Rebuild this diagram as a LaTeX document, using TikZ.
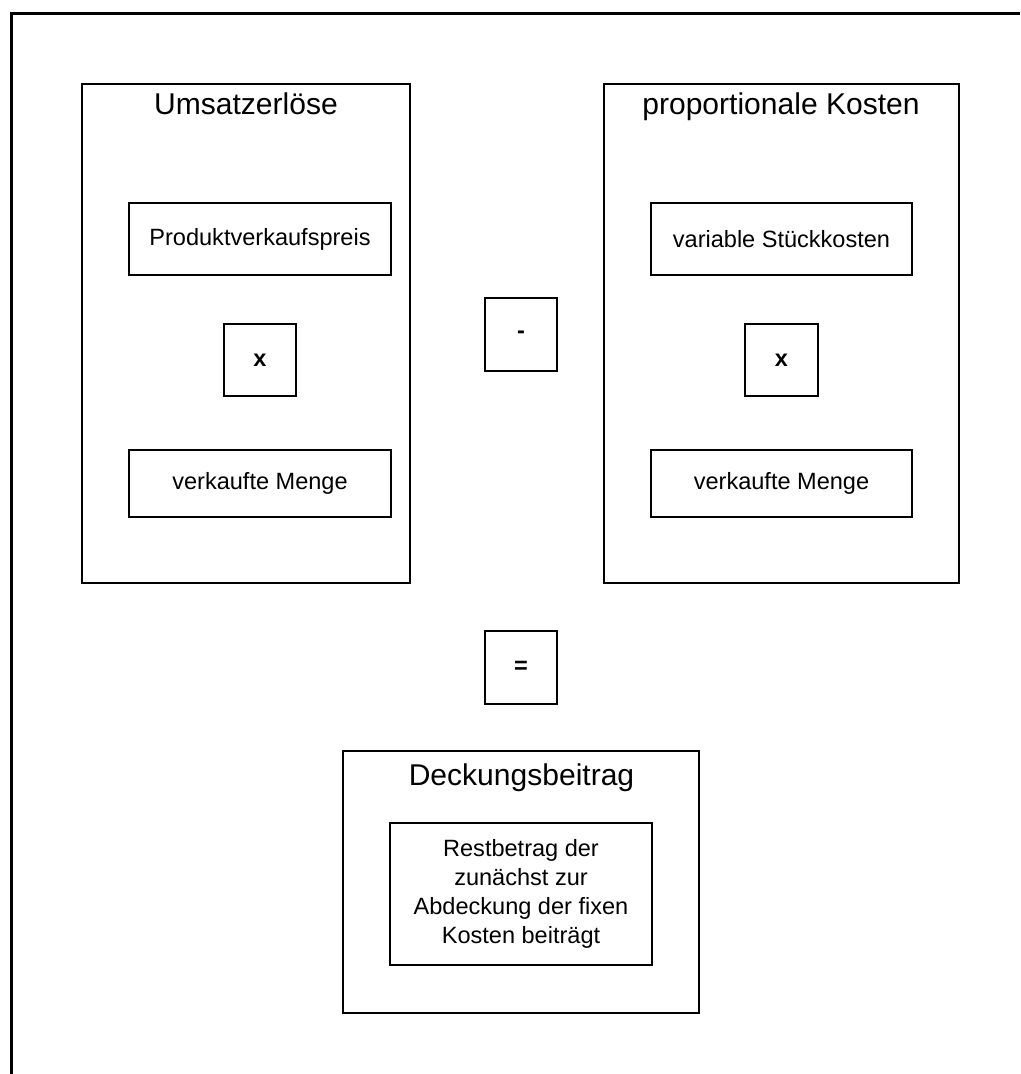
\documentclass[tikz,border=0pt]{standalone}
\usepackage{fontspec}
\setmainfont{Liberation Sans}
\usetikzlibrary{positioning}
\tikzset{
    frame/.style = {
        line width=1.9pt,
        },
    block/.style = {
        draw,
        line width=1.1pt,
        minimum width=6.56cm,
        minimum height=9.98cm,
        },
    heading/.style = {
        anchor=base,
        font=\fontsize{17.1}{20}\selectfont,
        },
    item/.style = {
        draw,
        line width=1.1pt,
        minimum width=5.23cm,
        font=\fontsize{13.4}{16.5}\selectfont,
        },
    op/.style = {
        draw,
        line width=1.1pt,
        minimum size=1.45cm,
        font=\fontsize{13.4}{16.5}\selectfont\bfseries,
        },
}

\begin{document}
\begin{tikzpicture}[x=0.02cm, y=-0.02cm]
    \useasboundingbox (0,0) rectangle (1020,1074);
    % frame runs past the right and lower page edge
    \draw[frame] (1020,13.5) -- (11.5,13.5) -- (11.5,1074);

    % revenue side
    \node[block] (umsatz) at (246,333.5) {};
    \node[heading] (umsatz title) at (246,115) {Umsatzerlöse};
    \node[item, minimum height=1.44cm] (preis) at (260,239) {Produktverkaufspreis};
    \node[op, below=0.94cm of preis] (mal1) {x};
    \node[item, minimum height=1.34cm, below=1.04cm of mal1] (menge1) {verkaufte Menge};

    % cost side
    \node[block, minimum width=7.1cm] (kosten) at (781.5,333.5) {};
    \node[heading] (kosten title) at (781,115) {proportionale Kosten};
    \node[item, minimum height=1.44cm] (stueck) at (781.5,239) {variable Stückkosten};
    \node[op, below=0.94cm of stueck] (mal2) {x};
    \node[item, minimum height=1.34cm, below=1.04cm of mal2] (menge2) {verkaufte Menge};

    \node[op] (minus) at (521,334.5) {-};
    \node[op] (gleich) at (521,667.5) {=};

    % result
    \node[block, minimum width=7.12cm, minimum height=5.24cm] (deckung) at (521,882) {};
    \node[heading] (deckung title) at (521.5,785) {Deckungsbeitrag};
    \node[item, minimum height=2.84cm, align=center] (rest) at (521,894)
        {Restbetrag der\\zunächst zur\\Abdeckung der fixen\\Kosten beiträgt};
\end{tikzpicture}
\end{document}
